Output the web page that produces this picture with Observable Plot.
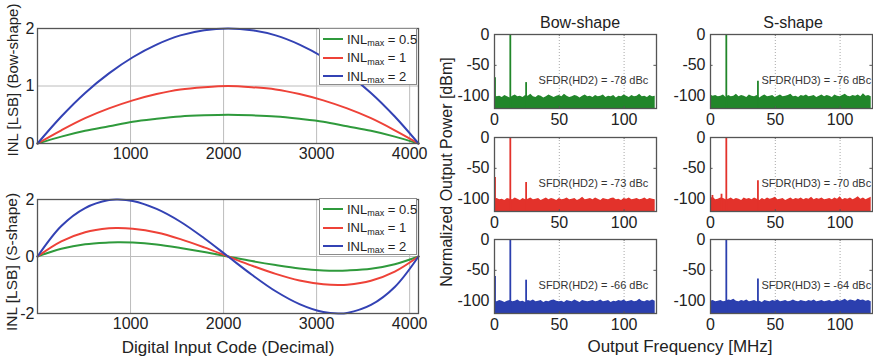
<!DOCTYPE html>
<html>
<head>
<meta charset="utf-8">
<script src="https://cdn.jsdelivr.net/npm/d3@7"></script>
<script src="https://cdn.jsdelivr.net/npm/@observablehq/plot@0.6"></script>
<style>
  body { margin: 0; background: #fff; }
  #fig { position: relative; width: 873px; height: 359px; overflow: hidden;
         font-family: "Liberation Sans", Arial, Helvetica, sans-serif; color: #222; }
  .lbl { position: absolute; white-space: nowrap; transform: translate(-50%, -50%); line-height: 1; }
  .rot { transform: translate(-50%, -50%) rotate(-90deg); }
  .legend { position: absolute; background: #fff; border: 1px solid #8c8c8c; box-sizing: border-box;
            font-size: 13px; color: #222; }
  .legend .row { position: absolute; left: 3px; height: 16px; display: flex; align-items: center; white-space: nowrap; }
  .legend .swatch { display: inline-block; width: 20px; height: 2px; margin-right: 4px; }
  .legend sub { font-size: 9px; position: relative; top: 4px; vertical-align: baseline; line-height: 0; }
</style>
</head>
<body>
<div id="fig"></div>
<script>
// ---------- INL curves (LSB) versus digital input code ----------
const inlMax = [0.5, 1, 2];
const inlColors = ["#2f9a3c", "#ee4238", "#3342b4"];
const codeTicks = [1000, 2000, 3000, 4000];

const bowCodes = [0, 256, 512, 768, 1024, 1280, 1536, 1792, 2048, 2304, 2560, 2816, 3072, 3328, 3584, 3840, 4095];
const bowInl05 = [0, 0.12, 0.22, 0.30, 0.38, 0.43, 0.47, 0.49, 0.50, 0.49, 0.47, 0.43, 0.38, 0.30, 0.22, 0.12, 0];
const bowInl1  = [0, 0.23, 0.44, 0.61, 0.75, 0.86, 0.94, 0.98, 1.00, 0.98, 0.94, 0.86, 0.75, 0.61, 0.44, 0.23, 0];
const bowInl2  = [0, 0.47, 0.88, 1.22, 1.50, 1.72, 1.88, 1.97, 2.00, 1.97, 1.88, 1.72, 1.50, 1.22, 0.88, 0.47, 0];

const sCodes = [0, 256, 512, 768, 864, 1024, 1280, 1536, 1792, 2048, 2304, 2560, 2816, 3072, 3232, 3328, 3584, 3840, 4095];
const sInl05 = [0, 0.27, 0.43, 0.49, 0.50, 0.49, 0.42, 0.30, 0.16, 0, -0.16, -0.30, -0.42, -0.49, -0.50, -0.49, -0.43, -0.27, 0];
const sInl1  = [0, 0.53, 0.85, 0.99, 1.00, 0.97, 0.84, 0.61, 0.32, 0, -0.32, -0.61, -0.84, -0.97, -1.00, -0.99, -0.85, -0.53, 0];
const sInl2  = [0, 1.07, 1.70, 1.98, 2.00, 1.95, 1.67, 1.22, 0.64, 0, -0.64, -1.22, -1.67, -1.95, -2.00, -1.98, -1.70, -1.07, 0];

// ---------- Output spectra (dB) ----------
const freqTicks = [0, 50, 100];
const powerTicks = [0, -50, -100];
const spectrumColors = ["#21862a", "#e3322b", "#2b3fae"];
const fundamentalMHz = 12.2;
const hd2MHz = 24.4;
const hd3MHz = 36.6;
const sfdrBow = [-78, -73, -66];   // HD2 level, dBc
const sfdrS = [-76, -70, -64];     // HD3 level, dBc
const dcBow = [-70, -65, -60];     // DC bin level in the bow-shape spectra
const spursS = [[], [[1.5, -94], [8.5, -92]], []];
const noiseStepMHz = 2;

const noiseBowG = [
  -99,-101,-100,-102,-99,-101,-103,-100,-98,
  -101,-100,-102,-99,-100,-97,-101,-102,-99,
  -100,-103,-101,-98,-100,-102,-100,-99,-101,
  -97,-100,-102,-101,-99,-100,-103,-100,-98,
  -101,-100,-102,-99,-101,-100,-98,-102,-100,
  -101,-99,-103,-100,-101,-98,-100,-102,-99,
  -101,-100,-97,-101,-100,-102,-99,-101,-100];
const noiseSG = [
  -98,-100,-99,-101,-100,-98,-102,-99,-101,
  -100,-97,-101,-99,-100,-102,-98,-100,-101,
  -99,-103,-100,-98,-101,-100,-99,-102,-100,
  -98,-101,-100,-99,-97,-101,-100,-102,-99,
  -100,-98,-101,-100,-99,-102,-100,-98,-101,
  -99,-100,-102,-98,-100,-101,-99,-97,-100,
  -101,-99,-100,-98,-101,-96,-100,-99,-101];
const noiseBowR = [
  -100,-99,-101,-100,-102,-99,-100,-101,-98,
  -100,-102,-99,-101,-100,-98,-101,-100,-99,
  -102,-100,-98,-101,-99,-100,-102,-99,-101,
  -100,-98,-101,-100,-99,-102,-100,-97,-101,
  -100,-99,-101,-98,-100,-102,-99,-100,-101,
  -99,-98,-101,-100,-102,-99,-100,-98,-101,
  -100,-99,-101,-100,-98,-101,-99,-100,-101];
const noiseSR = [
  -99,-97,-101,-100,-98,-99,-101,-100,-98,
  -101,-99,-100,-102,-98,-100,-99,-101,-98,
  -100,-102,-99,-101,-98,-100,-99,-97,-101,
  -100,-99,-102,-100,-98,-101,-99,-100,-98,
  -101,-99,-100,-97,-101,-99,-100,-98,-101,
  -100,-99,-101,-98,-100,-96,-101,-99,-100,
  -98,-101,-99,-96,-100,-98,-101,-99,-97];
const noiseBowB = [
  -100,-101,-99,-100,-102,-100,-99,-101,-100,
  -98,-101,-100,-102,-99,-100,-98,-101,-100,
  -99,-102,-100,-101,-99,-98,-100,-101,-100,
  -102,-99,-100,-101,-98,-100,-102,-99,-100,
  -101,-100,-99,-101,-100,-98,-101,-100,-99,
  -102,-100,-101,-99,-100,-98,-101,-100,-99,
  -101,-100,-97,-100,-101,-99,-100,-98,-100];
const noiseSB = [
  -100,-99,-101,-100,-99,-101,-100,-98,-99,
  -97,-100,-101,-99,-100,-98,-101,-100,-99,
  -101,-100,-102,-99,-100,-101,-99,-100,-98,
  -101,-100,-99,-101,-100,-98,-100,-101,-99,
  -100,-101,-99,-100,-98,-101,-100,-99,-101,
  -100,-99,-101,-100,-98,-100,-99,-97,-100,
  -98,-99,-100,-97,-99,-98,-100,-99,-101];

const noiseBow = [noiseBowG, noiseBowR, noiseBowB];
const noiseS = [noiseSG, noiseSR, noiseSB];

// ---------- layout helpers ----------
const fig = document.getElementById("fig");
const FONT = '"Liberation Sans", Arial, Helvetica, sans-serif';
const baseStyle = {fontFamily: FONT, fontSize: "16px", color: "#222", background: "transparent", overflow: "visible"};
const plain = d => String(d);

function mount(svg, frameLeft, frameTop, ml, mt) {
  svg.style.position = "absolute";
  svg.style.left = `${frameLeft - ml}px`;
  svg.style.top = `${frameTop - mt}px`;
  svg.style.maxWidth = "none";
  fig.appendChild(svg);
}

function label(text, x, y, size, rotated) {
  const d = document.createElement("div");
  d.className = rotated ? "lbl rot" : "lbl";
  d.style.left = `${x}px`;
  d.style.top = `${y}px`;
  d.style.fontSize = `${size}px`;
  d.textContent = text;
  fig.appendChild(d);
}

function legend(top) {
  const box = document.createElement("div");
  box.className = "legend";
  Object.assign(box.style, {left: "319px", top: `${top}px`, width: "98px", height: "57px"});
  inlMax.forEach((m, i) => {
    const row = document.createElement("div");
    row.className = "row";
    row.style.top = `${2 + i * 18.5}px`;
    row.innerHTML = `<span class="swatch" style="background:${inlColors[i]}"></span>INL<sub>max</sub>&nbsp;= ${m}`;
    box.appendChild(row);
  });
  fig.appendChild(box);
}

// ---------- INL panels ----------
function inlPanel({codes, series, yDomain, yTicks, gridY, frameTop, height}) {
  const ml = 50, mr = 10, mt = 8, mb = 30;
  const marks = [
    Plot.gridX(codeTicks, {stroke: "#bcbcbc", strokeOpacity: 1}),
    Plot.gridY(gridY, {stroke: "#bcbcbc", strokeOpacity: 1})
  ];
  series.forEach((values, i) => {
    const rows = codes.map((code, j) => ({code, inl: values[j]}));
    marks.push(Plot.line(rows, {x: "code", y: "inl", stroke: inlColors[i], strokeWidth: 2, curve: "catmull-rom"}));
  });
  marks.push(
    Plot.frame({stroke: "#555", strokeWidth: 1.3}),
    Plot.axisX(codeTicks, {tickSize: 0, tickPadding: 4, label: null, tickFormat: plain}),
    Plot.axisY(yTicks, {tickSize: 0, tickPadding: 3, label: null, tickFormat: plain})
  );
  const svg = Plot.plot({
    width: 381 + ml + mr, height: height + mt + mb,
    marginLeft: ml, marginRight: mr, marginTop: mt, marginBottom: mb,
    style: baseStyle,
    x: {domain: [0, 4095], label: null},
    y: {domain: yDomain, label: null},
    marks
  });
  mount(svg, 37, frameTop, ml, mt);
}

inlPanel({codes: bowCodes, series: [bowInl05, bowInl1, bowInl2], yDomain: [0, 2], yTicks: [0, 1, 2], gridY: [1], frameTop: 28, height: 115});
inlPanel({codes: sCodes, series: [sInl05, sInl1, sInl2], yDomain: [-2, 2], yTicks: [-2, 0, 2], gridY: [0], frameTop: 199, height: 114});
legend(28);
legend(198);

label("INL [LSB] (Bow-shape)", 12, 80, 15, true);
label("INL [LSB] (S-shape)", 12, 262, 15.5, true);
label("Digital Input Code (Decimal)", 228, 347, 17, false);

// ---------- spectrum panels ----------
function spectrumPanel({noise, color, spikes, labelText, labelX, frameLeft, frameTop}) {
  const ml = 50, mr = 10, mt = 6, mb = 26;
  const rows = noise.map((p, i) => ({f: i * noiseStepMHz, p}));
  const lines = spikes.map(([f, p]) => ({f, p}));
  const svg = Plot.plot({
    width: 162 + ml + mr, height: 74 + mt + mb,
    marginLeft: ml, marginRight: mr, marginTop: mt, marginBottom: mb,
    style: baseStyle,
    x: {domain: [0, 125], label: null},
    y: {domain: [-120, 0], label: null},
    marks: [
      Plot.gridX([50, 100], {stroke: "#a8a8a8", strokeOpacity: 1, strokeDasharray: "1,2"}),
      Plot.areaY(rows, {x: "f", y1: -120, y2: "p", fill: color}),
      Plot.ruleX(lines, {x: "f", y1: -120, y2: "p", stroke: color, strokeWidth: 1.8}),
      Plot.text([labelText], {x: labelX, y: -74, text: d => d, textAnchor: "start", fontSize: 11, fill: "#333"}),
      Plot.ruleY([-50], {x1: 0, x2: 2, stroke: "#555"}),
      Plot.ruleY([-50], {x1: 123, x2: 125, stroke: "#555"}),
      Plot.ruleX([50, 100], {y1: -120, y2: -117, stroke: "#555"}),
      Plot.ruleX([50, 100], {y1: -3, y2: 0, stroke: "#555"}),
      Plot.frame({stroke: "#555", strokeWidth: 1.3}),
      Plot.axisX(freqTicks, {tickSize: 0, tickPadding: 5, label: null, tickFormat: plain}),
      Plot.axisY(powerTicks, {tickSize: 0, tickPadding: 5, label: null, tickFormat: plain})
    ]
  });
  mount(svg, frameLeft, frameTop, ml, mt);
}

const rowTops = [34, 137, 239];
rowTops.forEach((top, r) => {
  spectrumPanel({
    noise: noiseBow[r], color: spectrumColors[r],
    spikes: [[0.4, dcBow[r]], [fundamentalMHz, 0], [hd2MHz, sfdrBow[r]]],
    labelText: `SFDR(HD2) = ${sfdrBow[r]} dBc`, labelX: 34,
    frameLeft: 494, frameTop: top
  });
  spectrumPanel({
    noise: noiseS[r], color: spectrumColors[r],
    spikes: [...spursS[r], [fundamentalMHz, 0], [hd3MHz, sfdrS[r]]],
    labelText: `SFDR(HD3) = ${sfdrS[r]} dBc`, labelX: 39.3,
    frameLeft: 710, frameTop: top
  });
});

label("Bow-shape", 580, 23, 16, false);
label("S-shape", 793, 23, 16, false);
label("Normalized Output Power [dBm]", 447, 172, 16, true);
label("Output Frequency [MHz]", 680, 346, 17, false);
</script>
</body>
</html>
